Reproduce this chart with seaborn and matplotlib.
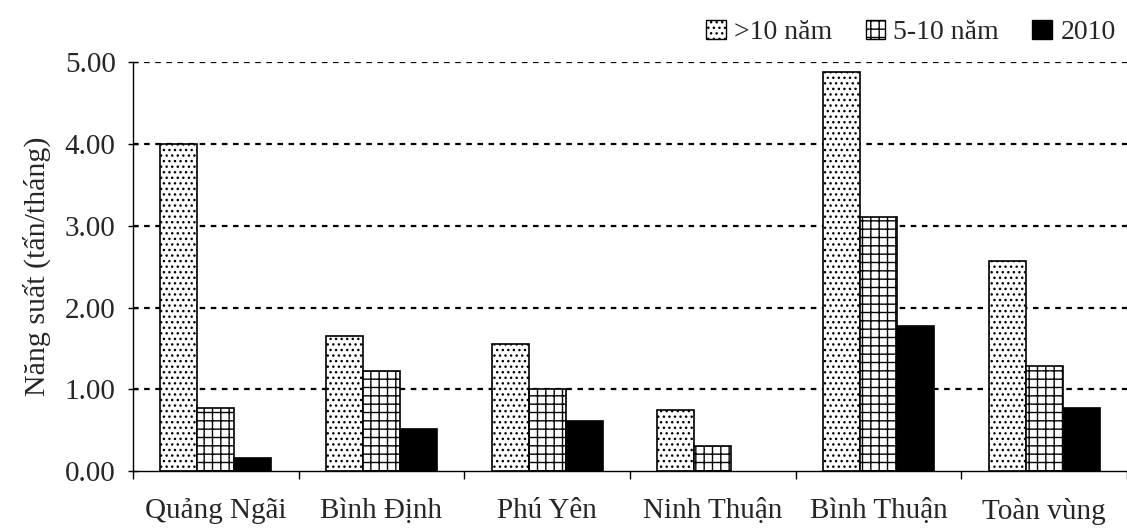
import matplotlib
matplotlib.use("Agg")
import matplotlib.pyplot as plt
from matplotlib.patches import Patch
import pandas as pd
import seaborn as sns

categories = ["Quảng Ngãi", "Bình Định", "Phú Yên", "Ninh Thuận", "Bình Thuận", "Toàn vùng"]
series = [">10 năm", "5-10 năm", "2010"]
over_10 = [4.00, 1.65, 1.55, 0.75, 4.88, 2.57]
from_5_10 = [0.77, 1.22, 1.00, 0.31, 3.10, 1.28]
y2010 = [0.16, 0.51, 0.61, 0.00, 1.77, 0.77]
y_ticks = [0, 1, 2, 3, 4, 5]

df = pd.DataFrame({
    "region": categories * 3,
    "series": [s for s in series for _ in categories],
    "value": over_10 + from_5_10 + y2010,
})

sns.set_style("white")
plt.rcParams["font.family"] = ["Liberation Serif", "DejaVu Serif"]
plt.rcParams["hatch.linewidth"] = 1.0

fig = plt.figure(figsize=(11.27, 5.30), dpi=100)
ax = fig.add_axes([0.118, 0.111, 0.882, 0.772])

sns.barplot(data=df, x="region", y="value", hue="series", order=categories,
            hue_order=series, width=0.67, ax=ax, legend=False,
            palette=["white", "white", "black"], saturation=1)

# (face, hatch, hatch colour)
styles = [("white", "...", "#444444"), ("white", "++", "black"), ("black", "", "black")]


def style_patch(p, fc, hatch, hc, lw):
    p.set_facecolor(fc)
    p.set_edgecolor("black")
    p.set_hatch(hatch)
    p.set_linewidth(lw)
    if hasattr(p, "set_hatchcolor"):
        p.set_hatchcolor(hc)


for cont, (fc, hatch, hc) in zip(ax.containers, styles):
    for bar in cont:
        style_patch(bar, fc, hatch, hc, 1.2)
        if bar.get_height() == 0:
            bar.set_visible(False)

ax.set_ylim(0, 5)
ax.set_xlim(-0.5, 5.5)
ax.set_yticks(y_ticks)
ax.set_yticklabels([f"{v:.2f}" for v in y_ticks], fontsize=21)
for v in y_ticks[1:]:
    ax.axhline(v, color="black", linestyle=(0, (2.5, 2.5)), linewidth=1.6, zorder=0)

ax.set_xticks([i - 0.5 for i in range(len(categories) + 1)])
ax.set_xticklabels([])
ax.set_xticks(range(len(categories)), minor=True)
ax.set_xticklabels(categories, minor=True, fontsize=21)
ax.tick_params(axis="x", which="major", bottom=True, direction="out", length=6, width=1, color="black")
ax.tick_params(axis="x", which="minor", bottom=True, length=0, pad=19)
ax.tick_params(axis="y", left=True, direction="inout", length=7, width=1, pad=9, color="black")

ax.set_xlabel("")
ax.set_ylabel("Năng suất (tấn/tháng)", fontsize=21.5, labelpad=10)
for s in ["top", "right"]:
    ax.spines[s].set_visible(False)
for s in ["left", "bottom"]:
    ax.spines[s].set_color("black")
    ax.spines[s].set_linewidth(1)

handles = []
for fc, h, hc in styles:
    p = Patch()
    style_patch(p, fc, h, hc, 1)
    handles.append(p)
fig.legend(handles, series, loc="upper right", bbox_to_anchor=(1.012, 1.01), ncol=3,
           frameon=False, fontsize=20, handlelength=0.7, handleheight=0.7,
           handletextpad=0.3, columnspacing=1.2)

fig.savefig("out.png", dpi=100)
